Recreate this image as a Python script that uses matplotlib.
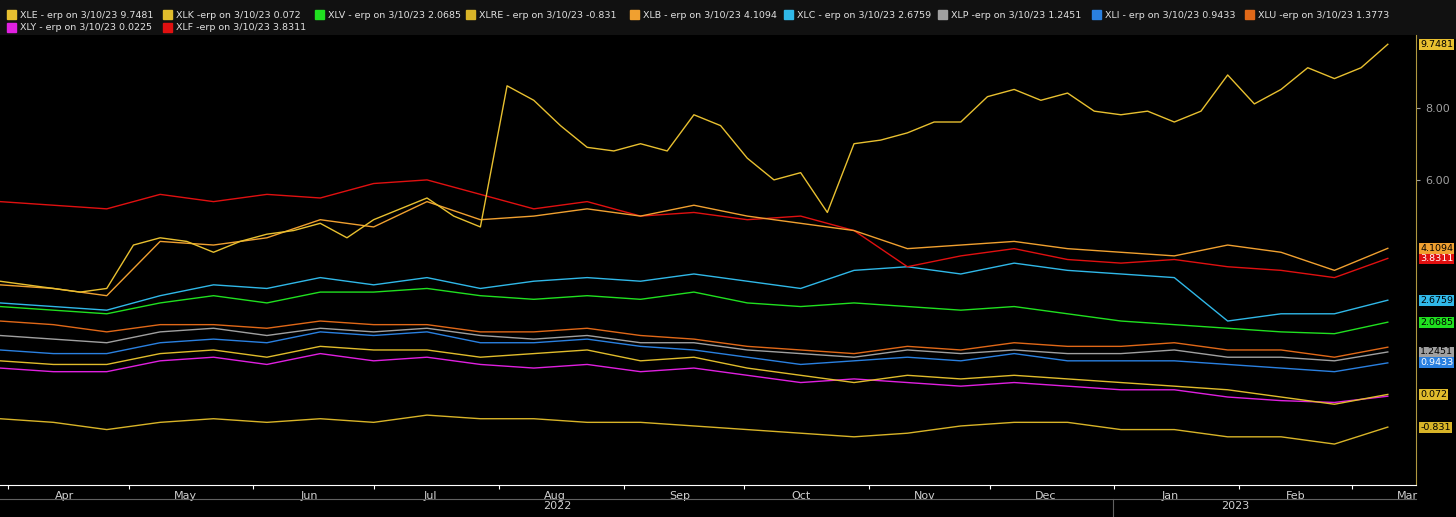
import pandas as pd
import matplotlib
matplotlib.use("Agg")
import matplotlib.pyplot as plt
import matplotlib.dates as mdates

# weekly series (XLE) and bi-weekly series for the rest
xle = [3.2, 3.1, 3.0, 2.9, 3.0, 4.2, 4.4, 4.3, 4.0, 4.3, 4.5, 4.6, 4.8, 4.4, 4.9, 5.2, 5.5, 5.0, 4.7, 8.6,
       8.2, 7.5, 6.9, 6.8, 7.0, 6.8, 7.8, 7.5, 6.6, 6.0, 6.2, 5.1, 7.0, 7.1, 7.3, 7.6, 7.6, 8.3, 8.5, 8.2,
       8.4, 7.9, 7.8, 7.9, 7.6, 7.9, 8.9, 8.1, 8.5, 9.1, 8.8, 9.1, 9.7481]
xlb = [3.1, 3.0, 2.8, 4.3, 4.2, 4.4, 4.9, 4.7, 5.4, 4.9, 5.0, 5.2, 5.0, 5.3, 5.0, 4.8, 4.6, 4.1, 4.2, 4.3, 4.1, 4.0, 3.9, 4.2, 4.0, 3.5, 4.1094]
xlf = [5.4, 5.3, 5.2, 5.6, 5.4, 5.6, 5.5, 5.9, 6.0, 5.6, 5.2, 5.4, 5.0, 5.1, 4.9, 5.0, 4.6, 3.6, 3.9, 4.1, 3.8, 3.7, 3.8, 3.6, 3.5, 3.3, 3.8311]
xlc = [2.6, 2.5, 2.4, 2.8, 3.1, 3.0, 3.3, 3.1, 3.3, 3.0, 3.2, 3.3, 3.2, 3.4, 3.2, 3.0, 3.5, 3.6, 3.4, 3.7, 3.5, 3.4, 3.3, 2.1, 2.3, 2.3, 2.6759]
xlv = [2.5, 2.4, 2.3, 2.6, 2.8, 2.6, 2.9, 2.9, 3.0, 2.8, 2.7, 2.8, 2.7, 2.9, 2.6, 2.5, 2.6, 2.5, 2.4, 2.5, 2.3, 2.1, 2.0, 1.9, 1.8, 1.75, 2.0685]
xlu = [2.1, 2.0, 1.8, 2.0, 2.0, 1.9, 2.1, 2.0, 2.0, 1.8, 1.8, 1.9, 1.7, 1.6, 1.4, 1.3, 1.2, 1.4, 1.3, 1.5, 1.4, 1.4, 1.5, 1.3, 1.3, 1.1, 1.3773]
xlp = [1.7, 1.6, 1.5, 1.8, 1.9, 1.7, 1.9, 1.8, 1.9, 1.7, 1.6, 1.7, 1.5, 1.5, 1.3, 1.2, 1.1, 1.3, 1.2, 1.3, 1.2, 1.2, 1.3, 1.1, 1.1, 1.0, 1.2451]
xli = [1.3, 1.2, 1.2, 1.5, 1.6, 1.5, 1.8, 1.7, 1.8, 1.5, 1.5, 1.6, 1.4, 1.3, 1.1, 0.9, 1.0, 1.1, 1.0, 1.2, 1.0, 1.0, 1.0, 0.9, 0.8, 0.7, 0.9433]
xlk = [1.0, 0.9, 0.9, 1.2, 1.3, 1.1, 1.4, 1.3, 1.3, 1.1, 1.2, 1.3, 1.0, 1.1, 0.8, 0.6, 0.4, 0.6, 0.5, 0.6, 0.5, 0.4, 0.3, 0.2, 0.0, -0.2, 0.072]
xly = [0.8, 0.7, 0.7, 1.0, 1.1, 0.9, 1.2, 1.0, 1.1, 0.9, 0.8, 0.9, 0.7, 0.8, 0.6, 0.4, 0.5, 0.4, 0.3, 0.4, 0.3, 0.2, 0.2, 0.0, -0.1, -0.15, 0.0225]
xlre = [-0.6, -0.7, -0.9, -0.7, -0.6, -0.7, -0.6, -0.7, -0.5, -0.6, -0.6, -0.7, -0.7, -0.8, -0.9, -1.0, -1.1, -1.0, -0.8, -0.7, -0.7, -0.9, -0.9, -1.1, -1.1, -1.3, -0.831]

dias_sem = pd.date_range("2022-03-30", "2023-03-10", periods=len(xle))
dias_quin = pd.date_range("2022-03-30", "2023-03-10", periods=len(xlb))

# (nome, dados, cor, texto da etiqueta)
series = [
    ("XLRE", xlre, "#d8b428", "-0.831"),
    ("XLY", xly, "#e020e0", None),
    ("XLK", xlk, "#e0bc2c", "0.072"),
    ("XLU", xlu, "#e06818", None),
    ("XLI", xli, "#2a80e0", "0.9433"),
    ("XLP", xlp, "#a0a0a0", "1.2451"),
    ("XLV", xlv, "#20e020", "2.0685"),
    ("XLC", xlc, "#30b8e8", "2.6759"),
    ("XLF", xlf, "#e01010", "3.8311"),
    ("XLB", xlb, "#f0a030", "4.1094"),
]

fig = plt.figure(figsize=(14.56, 5.17), dpi=100, facecolor="black")
ax = fig.add_axes([0.0, 0.062, 0.9725, 0.870], facecolor="black")

for nome, dados, cor, _ in series:
    ax.plot(dias_quin, dados, color=cor, lw=1.0)
ax.plot(dias_sem, xle, color="#e8c030", lw=1.0)

ax.set_xlim(pd.Timestamp("2022-03-30"), pd.Timestamp("2023-03-17"))
ax.set_ylim(-2.43, 10.0)

for s in ["top", "left"]:
    ax.spines[s].set_visible(False)
ax.spines["bottom"].set_color("white")
ax.spines["right"].set_color("#b09840")

ax.yaxis.tick_right()
ax.set_yticks([8, 6])
ax.set_yticklabels(["8.00", "6.00"])
ax.tick_params(axis="y", colors="#a0a0a0", labelsize=8, length=3)

ax.xaxis.set_major_locator(mdates.MonthLocator())
ax.xaxis.set_major_formatter(plt.NullFormatter())
ax.xaxis.set_minor_locator(mdates.MonthLocator(bymonthday=15))
ax.xaxis.set_minor_formatter(mdates.DateFormatter("%b"))
ax.tick_params(axis="x", which="major", colors="white", length=3)
ax.tick_params(axis="x", which="minor", length=0, labelcolor="#d0d0d0", labelsize=8, pad=4)

# linha de anos
fig.add_artist(plt.Line2D([0, 0.9725], [0.035, 0.035], color="#606060", lw=0.8))
fig.add_artist(plt.Line2D([1113 / 1456, 1113 / 1456], [0.0, 0.035], color="#606060", lw=0.8))
fig.text(557 / 1456, 0.022, "2022", color="#d0d0d0", fontsize=8, ha="center", va="center")
fig.text(1235 / 1456, 0.022, "2023", color="#d0d0d0", fontsize=8, ha="center", va="center")

# etiquetas de valor à direita
etiquetas = [(s[3], s[1][-1], s[2]) for s in series if s[3]] + [("9.7481", xle[-1], "#e8c030")]
for txt, v, cor in etiquetas:
    ax.annotate(txt, xy=(1.0, v), xycoords=("axes fraction", "data"), xytext=(3, 0),
                textcoords="offset points", va="center", ha="left", fontsize=6.8,
                color="white" if cor in ("#2a80e0", "#e01010") else "black",
                bbox=dict(boxstyle="square,pad=0.1", fc=cor, ec="none"), annotation_clip=False)

# legenda no topo
fig.add_artist(plt.Rectangle((0, 0.927), 1, 0.073, color="#111111", transform=fig.transFigure, zorder=-1))
leg1 = [("XLE - erp on 3/10/23 9.7481", "#e8c030", 7), ("XLK -erp on 3/10/23 0.072", "#e0bc2c", 163),
        ("XLV - erp on 3/10/23 2.0685", "#20e020", 315), ("XLRE - erp on 3/10/23 -0.831", "#d8b428", 466),
        ("XLB - erp on 3/10/23 4.1094", "#f0a030", 630), ("XLC - erp on 3/10/23 2.6759", "#30b8e8", 784),
        ("XLP -erp on 3/10/23 1.2451", "#a0a0a0", 938), ("XLI - erp on 3/10/23 0.9433", "#2a80e0", 1092),
        ("XLU -erp on 3/10/23 1.3773", "#e06818", 1245)]
leg2 = [("XLY - erp on 3/10/23 0.0225", "#e020e0", 7), ("XLF -erp on 3/10/23 3.8311", "#e01010", 163)]
for linha, y in [(leg1, 15), (leg2, 28)]:
    for txt, cor, x in linha:
        fig.add_artist(plt.Rectangle((x / 1456, 1 - (y + 4) / 517), 9 / 1456, 9 / 517,
                                     color=cor, transform=fig.transFigure))
        fig.text((x + 13) / 1456, 1 - y / 517, txt, color="#e0e0e0", fontsize=6.8, va="center")

fig.savefig("out.png", dpi=100, facecolor="black")
